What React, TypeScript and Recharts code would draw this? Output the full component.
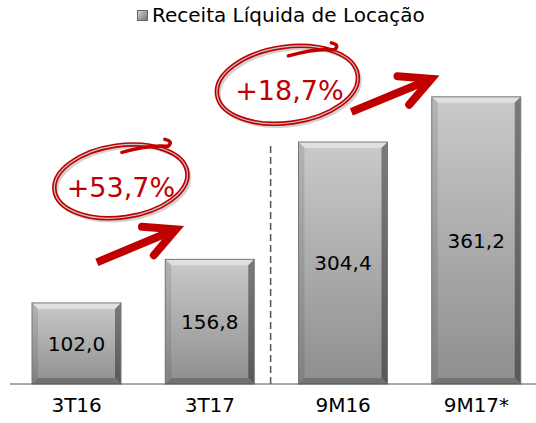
import { BarChart, Bar, XAxis, YAxis, LabelList, ReferenceLine, ReferenceDot } from "recharts";

const categories = ["3T16", "3T17", "9M16", "9M17*"];
const receita = [102.0, 156.8, 304.4, 361.2];
const seriesName = "Receita Líquida de Locação";

const data = categories.map((c, i) => ({ periodo: c, receita: receita[i] }));

const RED = "#c00000";
const FONT = "'DejaVu Sans', Verdana, sans-serif";

const fmt = (v: number) => v.toFixed(1).replace(".", ",");
const growth = (a: number, b: number) => "+" + fmt((b / a - 1) * 100) + "%";

// bevelled grey bar like the office template
const BevelBar = (props: any) => {
  const { x, y, width, height } = props;
  if (!height || height <= 0) return null;
  const b = 6;
  const r = x + width;
  const btm = y + height;
  return (
    <g>
      <rect x={x} y={y} width={width} height={height} fill="url(#face)" />
      <polygon points={`${x},${y} ${r},${y} ${r - b},${y + b} ${x + b},${y + b}`} fill="#e0e0e0" />
      <polygon points={`${x},${y} ${x + b},${y + b} ${x + b},${btm - b} ${x},${btm}`} fill="url(#leftEdge)" />
      <polygon points={`${r},${y} ${r},${btm} ${r - b},${btm - b} ${r - b},${y + b}`} fill="url(#rightEdge)" />
      <polygon points={`${x},${btm} ${x + b},${btm - b} ${r - b},${btm - b} ${r},${btm}`} fill="#727272" />
      <rect x={x} y={y} width={width} height={height} fill="none" stroke="#777" strokeWidth={1} />
    </g>
  );
};

const Arrow = ({ x1, y1, x2, y2 }: { x1: number; y1: number; x2: number; y2: number }) => {
  const a = Math.atan2(y2 - y1, x2 - x1);
  const L = 34;
  const s = 0.47;
  const ax = x2 - L * Math.cos(a - s);
  const ay = y2 - L * Math.sin(a - s);
  const bx = x2 - L * Math.cos(a + s);
  const by = y2 - L * Math.sin(a + s);
  return (
    <g stroke={RED} strokeWidth={8} fill="none">
      <line x1={x1} y1={y1} x2={x2 - 5 * Math.cos(a)} y2={y2 - 5 * Math.sin(a)} strokeLinecap="butt" />
      <polyline points={`${ax},${ay} ${x2},${y2} ${bx},${by}`} strokeLinecap="round" strokeLinejoin="miter" />
    </g>
  );
};

type Ann = { ex: number; ey: number; rx: number; ry: number; tx: number; ty: number; a1: [number, number]; a2: [number, number] };

const growthShape = (label: string, o: Ann) => (p: any) => {
  const { cx, cy } = p;
  if (cx == null || cy == null) return null;
  const ex = cx + o.ex;
  const ey = cy + o.ey;
  return (
    <g>
      <g transform={`rotate(-8 ${ex} ${ey})`}>
        <ellipse cx={ex + 2} cy={ey + 3} rx={o.rx} ry={o.ry} fill="none" stroke="#d2d2d2" strokeWidth={3} />
        <ellipse cx={ex} cy={ey} rx={o.rx} ry={o.ry} fill="none" stroke={RED} strokeWidth={4.5} />
        <ellipse cx={ex} cy={ey} rx={o.rx} ry={o.ry} fill="none" stroke="#c9c9c9" strokeWidth={1.2} />
      </g>
      <path
        d={`M ${ex + 1} ${ey - 29} Q ${ex + 30} ${ey - 37} ${ex + 47} ${ey - 35} Q ${ex + 53} ${ey - 40} ${ex + 44} ${ey - 42}`}
        fill="none"
        stroke={RED}
        strokeWidth={3.5}
        strokeLinecap="round"
      />
      <text x={cx + o.tx} y={cy + o.ty} textAnchor="middle" fill={RED} fontSize={27} fontFamily={FONT}>
        {label}
      </text>
      <Arrow x1={cx + o.a1[0]} y1={cy + o.a1[1]} x2={cx + o.a2[0]} y2={cy + o.a2[1]} />
    </g>
  );
};

// divider sits between the quarter and nine-month groups
const DashedDivider = (p: any) => {
  const { x1, y1, x2, y2 } = p;
  if (x1 == null) return null;
  return <line x1={x1 - 72.5} y1={y1} x2={x2 - 72.5} y2={y2} stroke="#555" strokeWidth={1.5} strokeDasharray="7 4" />;
};

const Tick = (p: any) => {
  const { x, y, payload } = p;
  return (
    <text x={x} y={y} dy={28} textAnchor="middle" fill="#000" fontSize={20} fontFamily={FONT}>
      {payload.value}
    </text>
  );
};

const LegendBox = () => (
  <div
    style={{
      position: "absolute",
      top: 3,
      left: 137,
      display: "flex",
      alignItems: "center",
      fontFamily: FONT,
      fontSize: 20,
      color: "#000",
      zIndex: 2,
    }}
  >
    <span
      style={{
        display: "inline-block",
        width: 11,
        height: 11,
        marginRight: 4,
        background: "linear-gradient(135deg, #d0d0d0, #777)",
        border: "1px solid #666",
        boxSizing: "border-box",
      }}
    />
    <span>{seriesName}</span>
  </div>
);

export default function App() {
  return (
    <div style={{ position: "absolute", left: 0, top: 0, width: 536, height: 423, overflow: "hidden", background: "#fff" }}>
      <LegendBox />
      <BarChart width={545} height={423} data={data} margin={{ top: 66, right: 2, bottom: 0, left: 10 }}>
        <defs>
          <linearGradient id="face" x1="0" y1="0" x2="0" y2="1">
            <stop offset="0%" stopColor="#cacaca" />
            <stop offset="100%" stopColor="#8e8e8e" />
          </linearGradient>
          <linearGradient id="leftEdge" x1="0" y1="0" x2="0" y2="1">
            <stop offset="0%" stopColor="#b4b4b4" />
            <stop offset="100%" stopColor="#808080" />
          </linearGradient>
          <linearGradient id="rightEdge" x1="0" y1="0" x2="0" y2="1">
            <stop offset="0%" stopColor="#7a7a7a" />
            <stop offset="100%" stopColor="#585858" />
          </linearGradient>
        </defs>
        <XAxis
          dataKey="periodo"
          height={39}
          tickLine={false}
          tickSize={0}
          tickMargin={0}
          axisLine={{ stroke: "#555", strokeWidth: 1 }}
          tick={<Tick />}
          interval={0}
        />
        <YAxis hide domain={[0, 400]} />
        <ReferenceLine
          segment={[
            { x: categories[2], y: 0 },
            { x: categories[2], y: receita[2] },
          ]}
          ifOverflow="visible"
          shape={<DashedDivider />}
        />
        <Bar dataKey="receita" name={seriesName} barSize={89} shape={<BevelBar />} isAnimationActive={false}>
          <LabelList
            dataKey="receita"
            position="center"
            formatter={(v: any) => fmt(Number(v))}
            fill="#000"
            fontSize={20}
            fontFamily={FONT}
          />
        </Bar>
        <ReferenceDot
          x={categories[1]}
          y={receita[1]}
          r={1}
          ifOverflow="visible"
          shape={growthShape(growth(receita[0], receita[1]), {
            ex: -89, ey: -78, rx: 67, ry: 36, tx: -89, ty: -62, a1: [-113, 3], a2: [-34, -30],
          })}
        />
        <ReferenceDot
          x={categories[3]}
          y={receita[3]}
          r={1}
          ifOverflow="visible"
          shape={growthShape(growth(receita[2], receita[3]), {
            ex: -189, ey: -12, rx: 71, ry: 38, tx: -187, ty: 3, a1: [-125, 15], a2: [-45, -18],
          })}
        />
      </BarChart>
    </div>
  );
}
